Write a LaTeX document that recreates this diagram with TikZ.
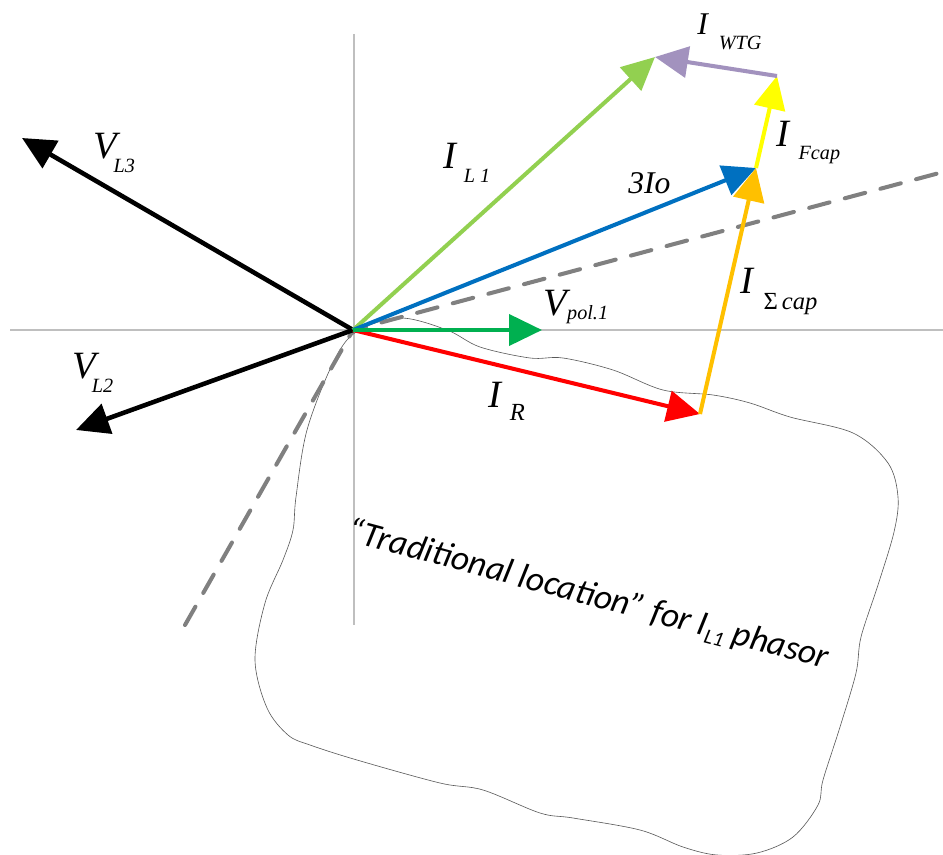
\documentclass[tikz,border=0pt]{standalone}
\usepackage{fontspec}
\setmainfont{Liberation Serif}
\newfontfamily\calfont{Carlito}
\usetikzlibrary{arrows.meta}

\definecolor{axisgray}{RGB}{191,191,191}
\definecolor{dashgray}{RGB}{128,128,128}
\definecolor{lgreen}{RGB}{146,208,80}
\definecolor{wtgpurple}{RGB}{162,146,190}
\definecolor{capyellow}{RGB}{255,255,0}
\definecolor{ioblue}{RGB}{0,112,192}
\definecolor{caporange}{RGB}{255,192,0}
\definecolor{polgreen}{RGB}{0,176,80}

% phasor label: main letter, subscript, kern, drop
\newcommand{\phs}[5][11.5]{\textit{#2}\kern#4\raisebox{-#5}{\fontsize{#1}{#1}\selectfont\textit{#3}}}

\begin{document}
\begin{tikzpicture}[
    x=0.02cm, y=-0.02cm,
    axis/.style={axisgray, line width=1.1pt},
    refline/.style={dashgray, line width=2.3pt, line cap=round, dash pattern=on 12pt off 9pt},
    vec/.style={line width=2.3pt, -{Triangle[length=0.66cm, width=0.62cm]}},
    volt/.style={vec, black, line width=2.6pt},
    blob/.style={black!65, line width=0.35pt},
    lbl/.style={anchor=base west, inner sep=0pt, font=\fontsize{22}{24}\selectfont},
    lblsm/.style={lbl, font=\fontsize{18}{20}\selectfont},
]
\useasboundingbox (0,0) rectangle (943,855);

% points
\coordinate (O)   at (353,330);
\coordinate (VL3) at (22,138);
\coordinate (VL2) at (76,430);
\coordinate (IL1) at (655,57);
\coordinate (F)   at (777,76);
\coordinate (B)   at (756,168);
\coordinate (R)   at (700,414);
\coordinate (Vp)  at (542,330);
\coordinate (axT) at (354,34);
\coordinate (axB) at (354,625);
\coordinate (axL) at (10,330);
\coordinate (axR) at (943,330);
\coordinate (dUp) at (943,172);
\coordinate (dLo) at (185,625);

% axes
\draw[axis] (axT) -- (axB);
\draw[axis] (axL) -- (axR);

% cloud
\draw[blob] plot[smooth cycle, tension=0.55] coordinates {
  (356,332) (400,318) (447,330) (480,347) (530,358) (563,358) (613,370)
  (663,390) (713,395) (750,403) (790,417) (853,433) (888,463) (898,497)
  (894,532) (878,585) (861,637) (856,673) (840,727) (823,780) (818,805)
  (793,837) (757,853) (717,855) (683,847) (640,830) (573,818) (540,813)
  (483,790) (440,783) (357,760) (310,745) (288,735) (267,708) (255,660)
  (265,603) (283,560) (293,530) (296,497) (307,430) (333,363)};

\node[anchor=base west, inner sep=0pt, rotate=-15,
      font=\calfont\itshape\fontsize{20}{22}\selectfont] (trad) at (345,540)
  {“Traditional location” for I\raisebox{-3.5pt}{\fontsize{12}{12}\selectfont L1} phasor};

% reference line
\draw[refline] (dLo) -- (O) -- (dUp);

% phasors
\draw[volt] (O) -- (VL3);
\draw[volt] (O) -- (VL2);
\draw[vec, lgreen] (O) -- (IL1);
\draw[vec, ioblue] (O) -- (B);
\draw[vec, red] (O) -- (R);
\draw[vec, polgreen] (O) -- (Vp);
\draw[vec, caporange] (R) -- (B);
\draw[vec, capyellow] (B) -- (F);
\draw[vec, wtgpurple] (F) -- (IL1);

% labels
\node[lbl] (lL3)  at (93,158)  {\phs{V}{L3}{-4pt}{8pt}};
\node[lbl] (lL2)  at (72,378)  {\phs{V}{L2}{-4.5pt}{8.5pt}};
\node[lbl] (lL1)  at (443,168) {\phs{I}{L 1}{3.5pt}{8pt}};
\node[lblsm] (lWTG) at (697,35) {\phs{I}{WTG}{5.5pt}{8.5pt}};
\node[lbl] (lF)   at (776,147) {\phs{I}{Fcap}{4.5pt}{7pt}};
\node[lblsm] (lIo) at (628,193) {\textit{3Io}};
\node[lbl] (lS)   at (740,293) {\phs[14]{I}{\textup{Σ}\,cap}{5pt}{9.5pt}};
\node[lbl] (lpol) at (543,315) {\phs{V}{pol.1}{-2pt}{2.5pt}};
\node[lbl] (lR)   at (488,407) {\phs[14]{I}{R}{4pt}{7.5pt}};

\end{tikzpicture}
\end{document}
